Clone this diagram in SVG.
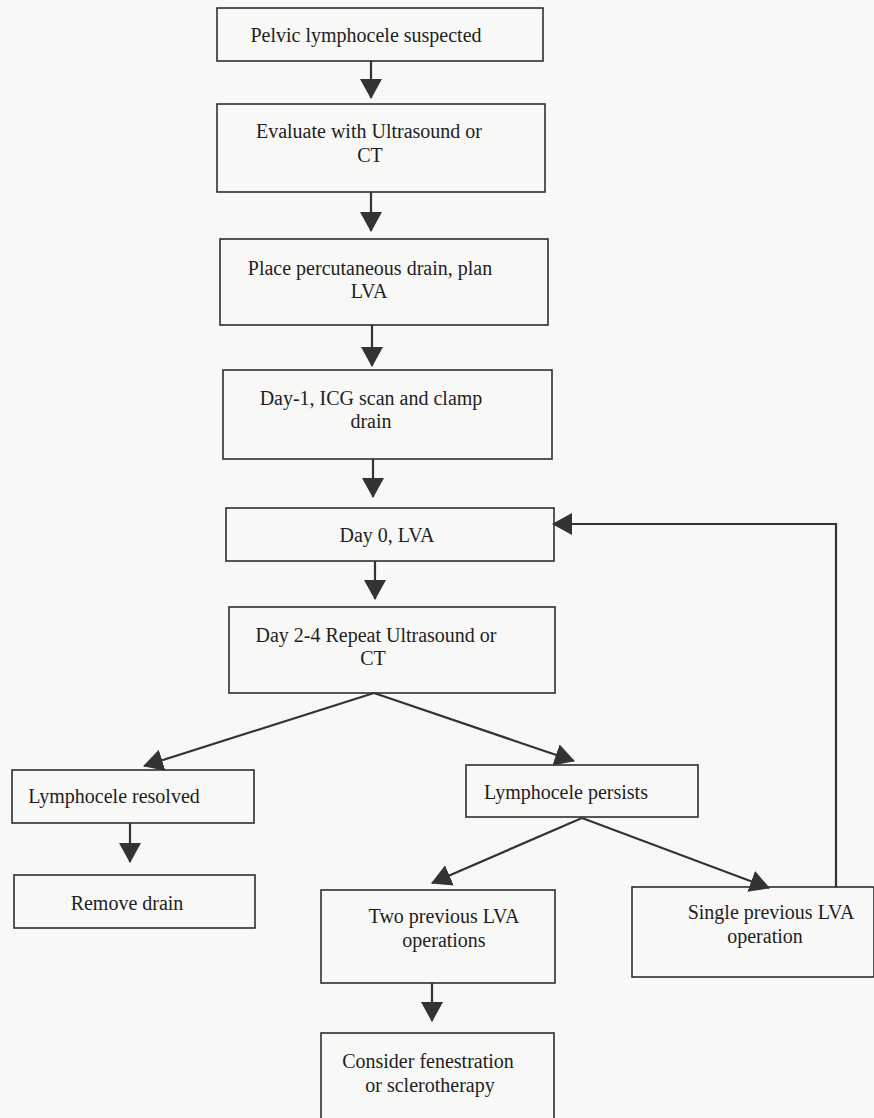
<svg xmlns="http://www.w3.org/2000/svg" width="874" height="1118" viewBox="0 0 874 1118">
<style>
.box{fill:none;stroke:#2e2e2e;stroke-width:1.6}
.t{font-family:"Liberation Serif","Times New Roman",serif;font-size:20px;fill:#1e1e1e;text-anchor:middle}
.c{fill:none;stroke:#333;stroke-width:2.2}
</style>
<defs>
<marker id="ah" viewBox="0 0 20 22" refX="19" refY="11" markerWidth="20" markerHeight="22" markerUnits="userSpaceOnUse" orient="auto">
<path d="M0,0 L20,11 L0,22 z" fill="#333"/>
</marker>
</defs>
<rect width="874" height="1118" fill="#f8f8f6"/>
<g id="n1"><rect class="box" x="217" y="8" width="326" height="53"/><text class="t" x="366" y="42">Pelvic lymphocele suspected</text></g>
<g id="n2"><rect class="box" x="217" y="104" width="328" height="88"/><text class="t" x="369" y="138">Evaluate with Ultrasound or</text><text class="t" x="370" y="162">CT</text></g>
<g id="n3"><rect class="box" x="220" y="239" width="328" height="86"/><text class="t" x="370" y="275">Place percutaneous drain, plan</text><text class="t" x="369" y="298">LVA</text></g>
<g id="n4"><rect class="box" x="223" y="370" width="329" height="89"/><text class="t" x="371" y="405">Day-1, ICG scan and clamp</text><text class="t" x="371" y="428">drain</text></g>
<g id="n5"><rect class="box" x="226" y="508" width="328" height="53"/><text class="t" x="387" y="542">Day 0, LVA</text></g>
<g id="n6"><rect class="box" x="229" y="607" width="326" height="86"/><text class="t" x="376" y="642">Day 2-4 Repeat Ultrasound or</text><text class="t" x="373" y="665">CT</text></g>
<g id="n7"><rect class="box" x="12" y="770" width="242" height="53"/><text class="t" x="114" y="803">Lymphocele resolved</text></g>
<g id="n8"><rect class="box" x="14" y="875" width="241" height="53"/><text class="t" x="127" y="910">Remove drain</text></g>
<g id="n9"><rect class="box" x="466" y="765" width="232" height="52"/><text class="t" x="566" y="799">Lymphocele persists</text></g>
<g id="n10"><rect class="box" x="321" y="890" width="234" height="93"/><text class="t" x="444" y="923">Two previous LVA</text><text class="t" x="444" y="947">operations</text></g>
<g id="n11"><rect class="box" x="632" y="887" width="242" height="90"/><text class="t" x="771" y="919">Single previous LVA</text><text class="t" x="765" y="943">operation</text></g>
<g id="n12"><rect class="box" x="321" y="1033" width="233" height="90"/><text class="t" x="428" y="1068">Consider fenestration</text><text class="t" x="430" y="1092">or sclerotherapy</text></g>
<g id="connectors" class="c">
<line x1="371" y1="61" x2="371" y2="98" marker-end="url(#ah)"/>
<line x1="371" y1="192" x2="371" y2="231" marker-end="url(#ah)"/>
<line x1="372" y1="325" x2="372" y2="366" marker-end="url(#ah)"/>
<line x1="373" y1="459" x2="373" y2="497" marker-end="url(#ah)"/>
<line x1="375" y1="561" x2="375" y2="599" marker-end="url(#ah)"/>
<line x1="374" y1="693" x2="144" y2="766" marker-end="url(#ah)"/>
<line x1="374" y1="693" x2="574" y2="761" marker-end="url(#ah)"/>
<line x1="130" y1="823" x2="130" y2="862" marker-end="url(#ah)"/>
<line x1="582" y1="818" x2="432" y2="883" marker-end="url(#ah)"/>
<line x1="582" y1="818" x2="769" y2="888" marker-end="url(#ah)"/>
<line x1="432" y1="983" x2="432" y2="1021" marker-end="url(#ah)"/>
<polyline points="836,887 836,524 553,524" marker-end="url(#ah)"/>
</g>
</svg>
